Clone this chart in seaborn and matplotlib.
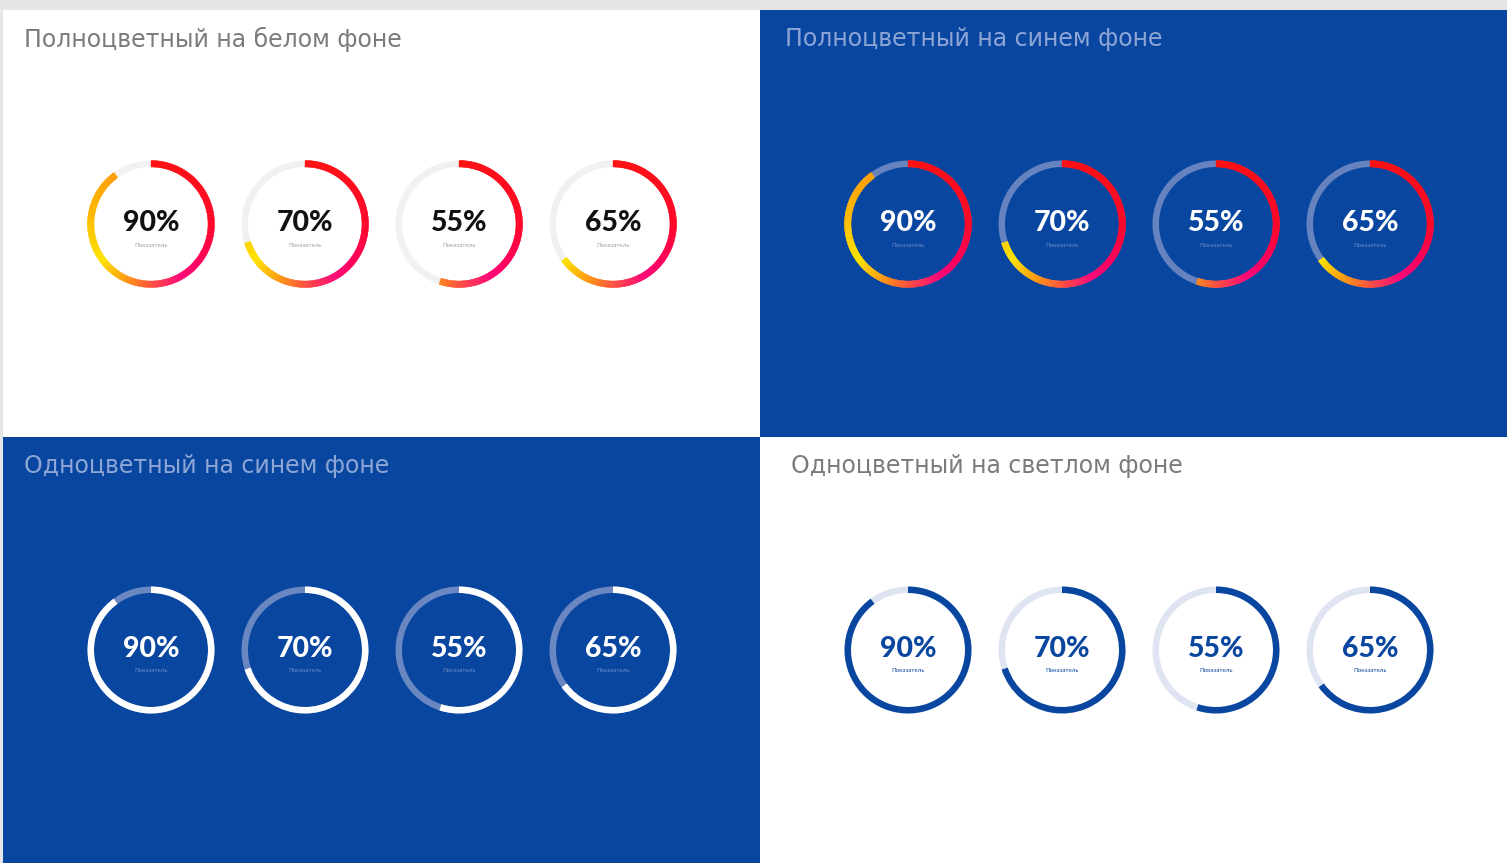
import numpy as np
import matplotlib
matplotlib.use("Agg")
import matplotlib.pyplot as plt
from matplotlib.patches import Wedge, Rectangle
from matplotlib.colors import LinearSegmentedColormap
import seaborn as sns

# Indicator values shown in each ring (percent)
values = [90, 70, 55, 65]
value_labels = ["90%", "70%", "55%", "65%"]
caption = "Показатель"

panel_titles = [
    "Полноцветный на белом фоне",
    "Полноцветный на синем фоне",
    "Одноцветный на синем фоне",
    "Одноцветный на светлом фоне",
]

sns.set_theme(style="white")
plt.rcParams["font.family"] = ["Lato", "DejaVu Sans"]

W, H = 1507, 863
BLUE = "#0846a0"

fig = plt.figure(figsize=(W / 100, H / 100), dpi=100, facecolor="#e6e6e6")
ax = fig.add_axes([0, 0, 1, 1])
ax.set_xlim(0, W)
ax.set_ylim(0, H)
ax.set_aspect("equal")
ax.axis("off")

# Warm gradient fixed by angle (degrees clockwise from 12 o'clock)
warm = LinearSegmentedColormap.from_list(
    "warm",
    [
        (0.00, "#ff1010"),
        (0.25, "#ff0828"),
        (0.36, "#ff0060"),
        (0.42, "#ff0a78"),
        (0.50, "#ff5040"),
        (0.57, "#ff9a12"),
        (0.65, "#ffe400"),
        (0.78, "#ffb800"),
        (1.00, "#ff8a10"),
    ],
)

def yv(y_top):
    return H - y_top

def ring(cx, cy, value, track, color, r_out=63.5, width=6.5):
    cy = yv(cy)
    ax.add_patch(Wedge((cx, cy), r_out, 0, 360, width=width, facecolor=track,
                       edgecolor="none", zorder=2))
    end = 360 * value / 100
    if color == "gradient":
        n = 240
        edges = np.linspace(0, end, n + 1)
        for a1, a2 in zip(edges[:-1], edges[1:]):
            c = warm(((a1 + a2) / 2) / 360)
            ax.add_patch(Wedge((cx, cy), r_out, 90 - a2 - 0.4, 90 - a1, width=width,
                               facecolor=c, edgecolor=c, linewidth=0.25, zorder=3))
    else:
        ax.add_patch(Wedge((cx, cy), r_out, 90 - end, 90, width=width,
                           facecolor=color, edgecolor="none", zorder=3))

panels = [
    # (x0, y0, x1, y1, bg, title color, track, arc, number color, caption color)
    (3, 10, 760, 437, "white", "#7b7b7b", "#f1f1f1", "gradient", "#111111", "#a0a0a0"),
    (760, 10, W, 437, BLUE, "#8ea6d6", "#6683bf", "gradient", "white", "#6f8cc8"),
    (3, 437, 760, H, BLUE, "#8ea6d6", "#6a87c2", "white", "white", "#6f8cc8"),
    (760, 437, W, H, "white", "#7b7b7b", "#dfe4f3", BLUE, BLUE, BLUE),
]
title_x = [24, 785, 24, 791]
ring_x = [[151, 305, 459, 613], [908, 1062, 1216, 1370],
          [151, 305, 459, 613], [908, 1062, 1216, 1370]]
ring_y = [224, 224, 650, 650]

for i, (x0, y0, x1, y1, bg, tcol, track, arc, ncol, ccol) in enumerate(panels):
    ax.add_patch(Rectangle((x0, yv(y1)), x1 - x0, y1 - y0, facecolor=bg,
                           edgecolor="none", zorder=1))
    ax.text(title_x[i], yv(y0 + 29), panel_titles[i], color=tcol, fontsize=17.0,
            ha="left", va="center", family=["DejaVu Sans"], zorder=4)
    for cx, v, lab in zip(ring_x[i], values, value_labels):
        ring(cx, ring_y[i], v, track, arc)
        ax.text(cx, yv(ring_y[i] - 1), lab, color=ncol, fontsize=20.5,
                fontweight=900, ha="center", va="center", zorder=4)
        ax.text(cx, yv(ring_y[i] + 21), caption, color=ccol, fontsize=4.5,
                ha="center", va="center", zorder=4)

fig.savefig("out.png", dpi=100, facecolor=fig.get_facecolor())
